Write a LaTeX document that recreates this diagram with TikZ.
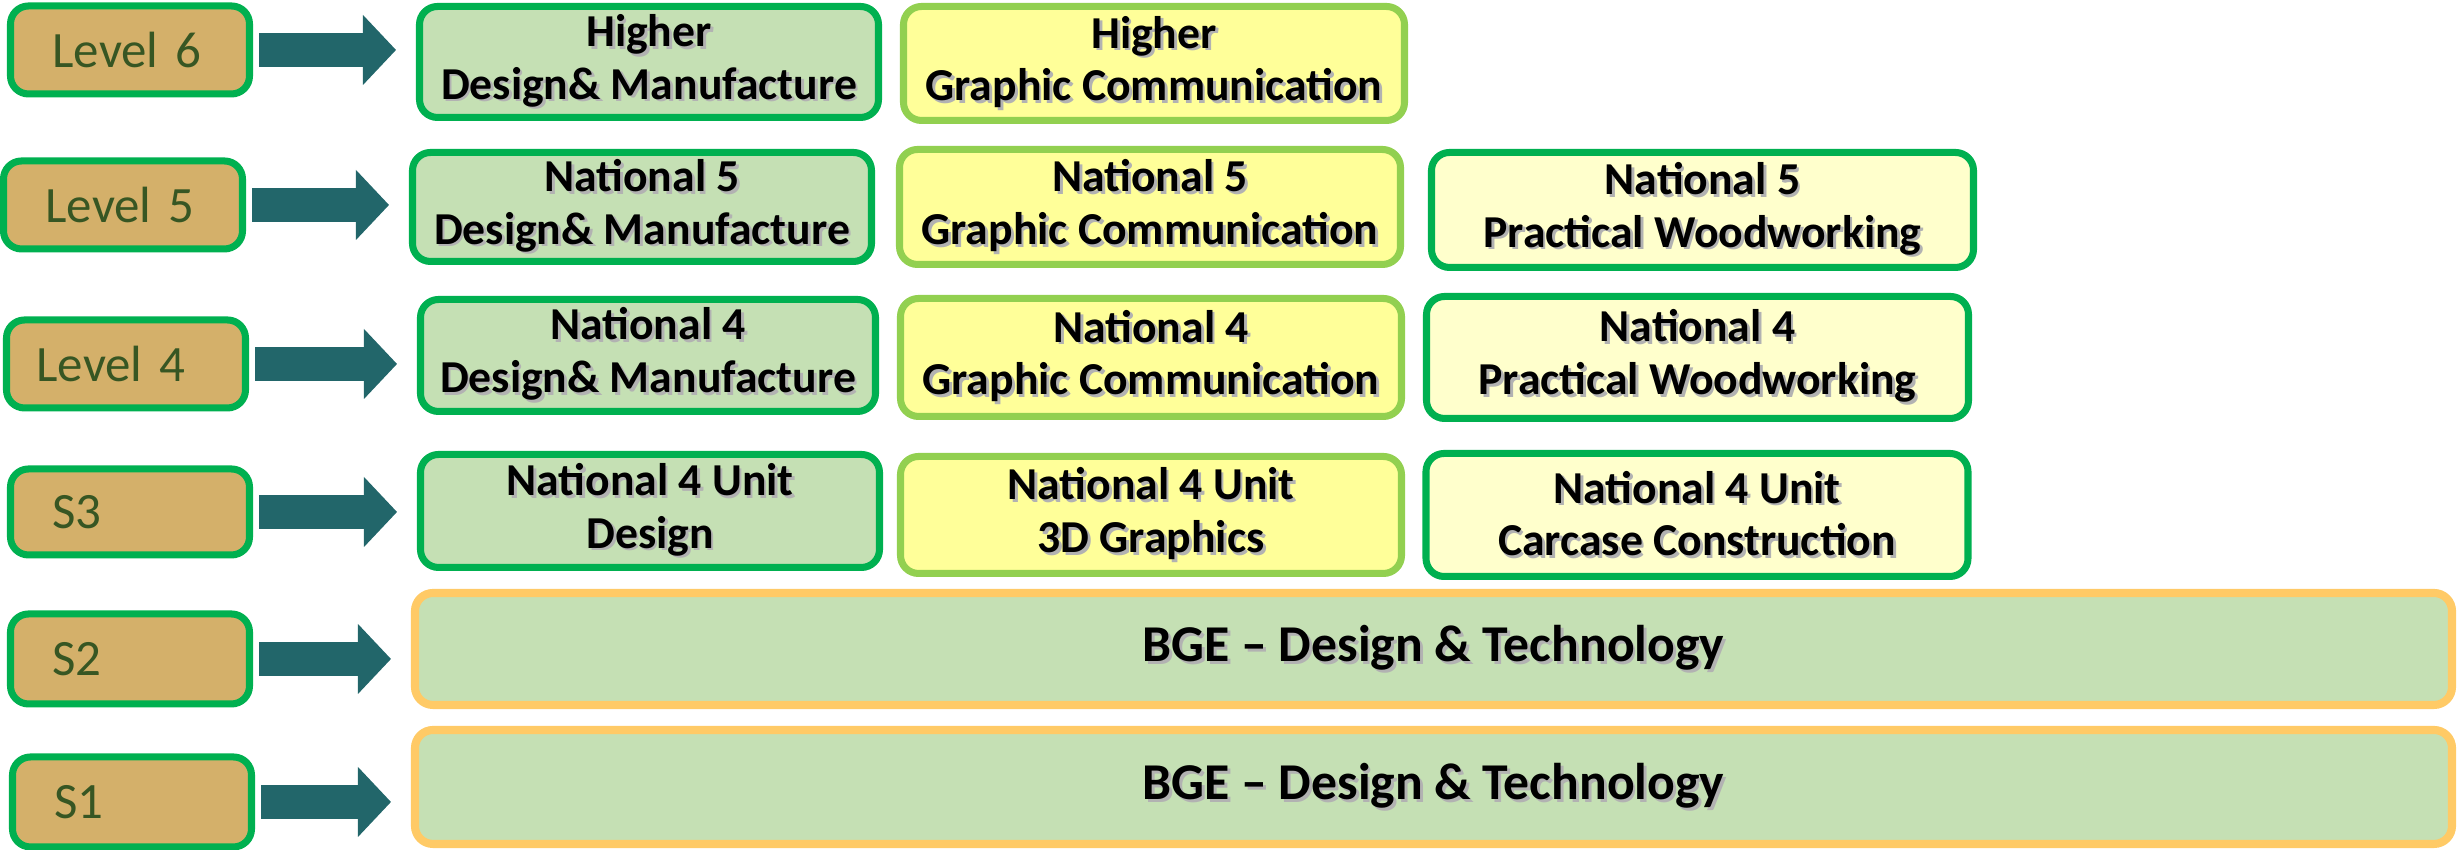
\documentclass[tikz,border=0pt]{standalone}
\usepackage{fontspec}
\setmainfont{Carlito}
\usetikzlibrary{arrows.meta}
\definecolor{lvlfill}{HTML}{D4B06A}
\definecolor{lvltext}{HTML}{375623}
\definecolor{grnline}{HTML}{00B050}
\definecolor{ltgrnline}{HTML}{92D050}
\definecolor{dmfill}{HTML}{C5E0B4}
\definecolor{gcfill}{HTML}{FFFF99}
\definecolor{pwfill}{HTML}{FFFFCC}
\definecolor{bgeline}{HTML}{FFCA66}
\definecolor{arrfill}{HTML}{22666A}
% text with a soft grey drop shadow
\newcommand{\shd}[1]{\leavevmode\rlap{\kern0.8pt\raisebox{-0.8pt}{\color{black!30}#1}}#1}

\begin{document}
\begin{tikzpicture}[
    box/.style={draw,rounded corners=0.18cm,line width=2pt,inner sep=0pt,align=center,
      font=\bfseries\fontsize{13}{15}\selectfont},
    lvl/.style={box,fill=lvlfill,draw=grnline,minimum height=0.88cm,text width=1.55cm,
      align=left,inner xsep=0.42cm,text=lvltext,font=\fontsize{14.5}{16}\selectfont},
    dm/.style={box,fill=dmfill,draw=grnline,minimum width=4.59cm},
    gc/.style={box,fill=gcfill,draw=ltgrnline,minimum width=5.01cm},
    pw/.style={box,fill=pwfill,draw=grnline,minimum width=5.42cm},
    bge/.style={box,fill=dmfill,draw=bgeline,line width=2.3pt,minimum width=20.37cm,
      font=\bfseries\fontsize{14.7}{16}\selectfont},
    blk/.style={draw=arrfill,line width=0.34cm,
      -{Triangle[length=0.33cm,width=0.70cm,line width=0pt]},
      shorten <=0.06cm,shorten >=0.2cm}
  ]
  \useasboundingbox (0,0) rectangle (24.58,8.5);

  % levels
  \node[lvl] (L6) at (1.30,8.00) {Level~6};
  \node[lvl] (L5) at (1.23,6.45) {Level~5};
  \node[lvl,inner xsep=0.30cm,text width=1.79cm] (L4) at (1.26,4.86) {Level~4};
  \node[lvl,minimum height=0.86cm] (S3) at (1.30,3.38) {S3};
  \node[lvl,minimum height=0.90cm] (S2) at (1.30,1.91) {S2};
  \node[lvl,minimum height=0.90cm] (S1) at (1.32,0.48) {S1};

  % courses
  \node[dm,minimum height=1.11cm] (HDM) at (6.49,7.88) {\shd{Higher}\\\shd{Design\& Manufacture}};
  \node[dm,minimum height=1.09cm] (N5DM) at (6.42,6.43) {\shd{National 5}\\\shd{Design\& Manufacture}};
  \node[dm,minimum height=1.12cm,minimum width=4.55cm] (N4DM) at (6.48,4.945) {\shd{National 4}\\\shd{Design\& Manufacture}};
  \node[dm,minimum height=1.13cm] (U4D) at (6.50,3.39) {\shd{National 4 Unit}\\\shd{Design}};

  \node[gc,minimum height=1.14cm] (HGC) at (11.54,7.865) {\shd{Higher}\\\shd{Graphic Communication}};
  \node[gc,minimum height=1.15cm] (N5GC) at (11.50,6.43) {\shd{National 5}\\\shd{Graphic Communication}};
  \node[gc,minimum height=1.18cm] (N4GC) at (11.51,4.925) {\shd{National 4}\\\shd{Graphic Communication}};
  \node[gc,minimum height=1.17cm] (U4G) at (11.51,3.35) {\shd{National 4 Unit}\\\shd{3D Graphics}};

  \node[pw,minimum height=1.15cm] (N5PW) at (17.025,6.40) {\shd{National 5}\\\shd{Practical Woodworking}};
  \node[pw,minimum height=1.22cm] (N4PW) at (16.975,4.925) {\shd{National 4}\\\shd{Practical Woodworking}};
  \node[pw,minimum height=1.23cm] (U4C) at (16.97,3.35) {\shd{National 4 Unit}\\\shd{Carcase Construction}};

  \node[bge,minimum height=1.12cm] (BGE2) at (14.335,2.01) {\shd{BGE – Design \& Technology}};
  \node[bge,minimum height=1.14cm] (BGE1) at (14.335,0.63) {\shd{BGE – Design \& Technology}};

  % arrows
  \draw[blk] (L6.east) -- (L6.east -| HDM.west);
  \draw[blk] (L5.east) -- (L5.east -| N5DM.west);
  \draw[blk] (L4.east) -- (L4.east -| N4DM.west);
  \draw[blk] (S3.east) -- (S3.east -| U4D.west);
  \draw[blk] (S2.east) -- (S2.east -| BGE2.west);
  \draw[blk] (S1.east) -- (S1.east -| BGE1.west);
\end{tikzpicture}
\end{document}
